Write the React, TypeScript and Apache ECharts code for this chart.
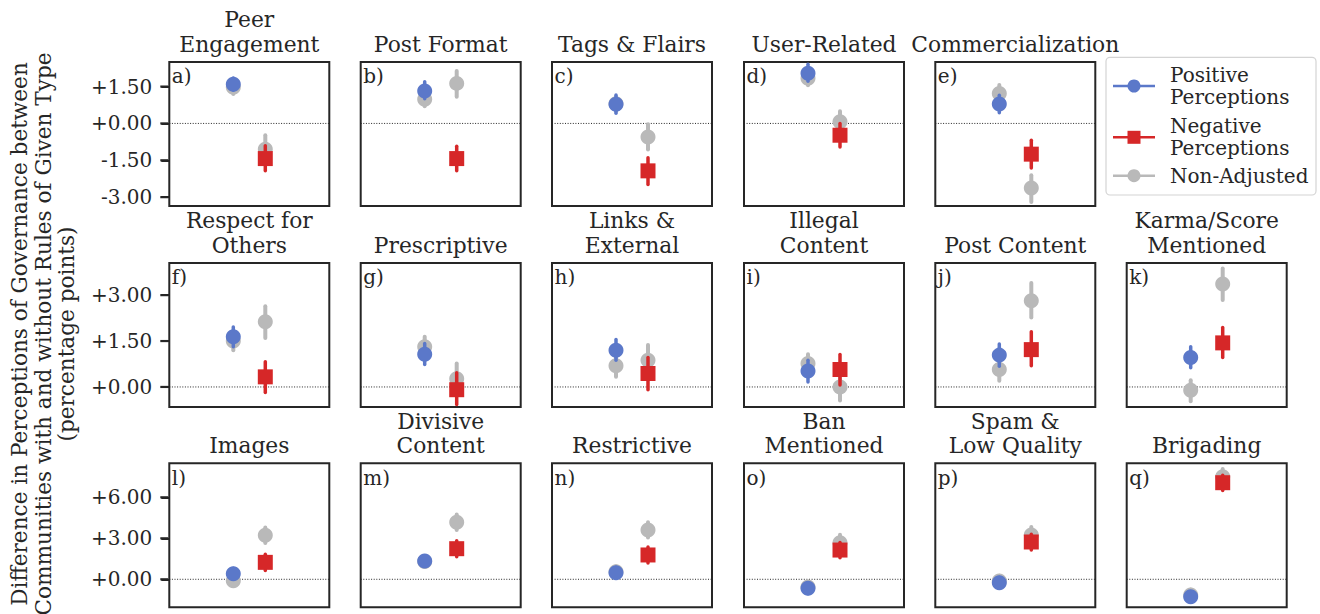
import React, { useEffect, useRef } from 'react';
import * as echarts from 'echarts';

// ---------- data ----------
const panelTitles = [
  'Peer\nEngagement', 'Post Format', 'Tags & Flairs', 'User-Related', 'Commercialization',
  'Respect for\nOthers', 'Prescriptive', 'Links &\nExternal', 'Illegal\nContent', 'Post Content', 'Karma/Score\nMentioned',
  'Images', 'Divisive\nContent', 'Restrictive', 'Ban\nMentioned', 'Spam &\nLow Quality', 'Brigading',
];
const panelLetters = ['a)', 'b)', 'c)', 'd)', 'e)', 'f)', 'g)', 'h)', 'i)', 'j)', 'k)', 'l)', 'm)', 'n)', 'o)', 'p)', 'q)'];
const panelRow = [0, 0, 0, 0, 0, 1, 1, 1, 1, 1, 1, 2, 2, 2, 2, 2, 2];
const panelCol = [0, 1, 2, 3, 4, 0, 1, 2, 3, 4, 5, 0, 1, 2, 3, 4, 5];

// Positive perceptions (adjusted)
const posEst = [1.59, 1.32, 0.78, 2.04, 0.79, 1.64, 1.07, 1.20, 0.52, 1.04, 0.96, 0.41, 1.34, 0.48, -0.66, -0.25, -1.27];
const posLo = [1.35, 1.00, 0.41, 1.72, 0.43, 1.31, 0.73, 0.87, 0.16, 0.68, 0.63, 0.00, 0.95, 0.08, -1.05, -0.65, -1.65];
const posHi = [1.85, 1.70, 1.16, 2.41, 1.15, 1.96, 1.42, 1.55, 0.87, 1.40, 1.31, 0.80, 1.72, 0.88, -0.28, 0.15, -0.90];
// Negative perceptions (adjusted)
const negEst = [-1.43, -1.43, -1.93, -0.48, -1.25, 0.33, -0.09, 0.44, 0.57, 1.22, 1.44, 1.24, 2.24, 1.78, 2.14, 2.73, 7.07];
const negLo = [-1.93, -1.93, -2.48, -0.96, -1.81, -0.18, -0.57, -0.09, 0.06, 0.69, 0.96, 0.64, 1.65, 1.20, 1.58, 2.15, 6.50];
const negHi = [-0.91, -0.93, -1.40, 0.00, -0.68, 0.82, 0.46, 0.96, 1.06, 1.80, 1.94, 1.84, 2.82, 2.36, 2.70, 3.30, 7.62];
// Non-adjusted, positive side
const rawPosEst = [1.47, 0.98, 0.80, 1.84, 1.22, 1.50, 1.31, 0.69, 0.77, 0.57, -0.11, -0.10, 1.30, 0.56, -0.56, -0.12, -1.15];
const rawPosLo = [1.20, 0.70, 0.50, 1.55, 0.90, 1.20, 1.00, 0.33, 0.45, 0.20, -0.47, -0.50, 0.90, 0.16, -0.95, -0.50, -1.55];
const rawPosHi = [1.75, 1.25, 1.10, 2.15, 1.56, 1.80, 1.64, 1.00, 1.07, 0.90, 0.22, 0.30, 1.70, 0.96, -0.17, 0.26, -0.75];
// Non-adjusted, negative side
const rawNegEst = [-1.05, 1.63, -0.55, 0.07, -2.63, 2.13, 0.27, 0.87, 0.00, 2.82, 3.36, 3.22, 4.17, 3.61, 2.68, 3.24, 7.51];
const rawNegLo = [-1.60, 1.09, -1.06, -0.35, -3.20, 1.60, -0.20, 0.40, -0.44, 2.27, 2.84, 2.65, 3.60, 3.05, 2.10, 2.66, 6.95];
const rawNegHi = [-0.48, 2.13, -0.03, 0.50, -2.11, 2.64, 0.77, 1.37, 0.30, 3.40, 3.87, 3.79, 4.74, 4.17, 3.26, 3.82, 8.07];

const rowTicks = [[-3, -1.5, 0, 1.5], [0, 1.5, 3], [0, 3, 6]];
const rowMin = [-3.36, -0.655, -2.05];
const rowMax = [2.5, 4.05, 8.49];
// two category slots on a hidden x scale
const catX = [3, 4];
const xRange = [1, 6];

const legendLines = [['Positive', 'Perceptions'], ['Negative', 'Perceptions'], ['Non-Adjusted']];
const yAxisTitle = 'Difference in Perceptions of Governance between\nCommunities with and without Rules of Given Type\n(percentage points)';

// ---------- style ----------
const BLUE = '#5b78c9';
const RED = '#d62728';
const GRAY = '#b9b9b9';
const INK = '#262626';
const FONT = 'DejaVu Serif';
const LEFTS = [169.3, 360.7, 552, 744, 935.3, 1126.7];
const TOPS = [62, 263, 463.3];
const PW = 160;
const PH = 144;
const TICK_LEN = 8;

const fmt = (v: number) => (v >= 0 ? '+' : '') + v.toFixed(2);

function errSeries(i: number, data: number[][], colors: string[], width: number, z: number) {
  return {
    type: 'custom',
    xAxisIndex: i,
    yAxisIndex: i,
    z,
    silent: true,
    data,
    renderItem: (params: any, api: any) => {
      const x = api.value(0);
      const p1 = api.coord([x, api.value(1)]);
      const p2 = api.coord([x, api.value(2)]);
      return {
        type: 'line',
        shape: { x1: p1[0], y1: p1[1], x2: p2[0], y2: p2[1] },
        style: { stroke: colors[params.dataIndex], lineWidth: width, lineCap: 'round' },
      };
    },
  };
}

function buildOption() {
  const grid: any[] = [];
  const xAxis: any[] = [];
  const yAxis: any[] = [];
  const series: any[] = [];
  const graphic: any[] = [];

  panelTitles.forEach((title, i) => {
    const r = panelRow[i];
    const c = panelCol[i];
    const left = LEFTS[c];
    const top = TOPS[r];
    grid.push({ left, top, width: PW, height: PH, show: true, borderColor: INK, borderWidth: 2, backgroundColor: 'transparent', containLabel: false });
    xAxis.push({ gridIndex: i, type: 'value', min: xRange[0], max: xRange[1], show: false });
    yAxis.push({
      gridIndex: i,
      type: 'value',
      position: 'left',
      min: rowMin[r],
      max: rowMax[r],
      splitLine: { show: false },
      axisLine: { show: false, onZero: false },
      axisTick: { show: c === 0, inside: false, length: TICK_LEN, lineStyle: { width: 2, color: INK }, customValues: rowTicks[r] },
      axisLabel: { show: c === 0, customValues: rowTicks[r], formatter: fmt, margin: 17, fontFamily: FONT, fontSize: 20, color: INK },
    });

    // zero reference line
    series.push({
      type: 'line', xAxisIndex: i, yAxisIndex: i, z: 1, silent: true, symbol: 'none',
      data: [[xRange[0], 0], [xRange[1], 0]],
      lineStyle: { type: [1, 1.6], width: 1, color: INK },
    });
    // non-adjusted
    series.push(errSeries(i, [[catX[0], rawPosLo[i], rawPosHi[i]], [catX[1], rawNegLo[i], rawNegHi[i]]], [GRAY, GRAY], 4, 2));
    series.push({
      type: 'scatter', xAxisIndex: i, yAxisIndex: i, z: 3, silent: true, symbol: 'circle', symbolSize: 15,
      itemStyle: { color: GRAY, opacity: 1 },
      data: [[catX[0], rawPosEst[i]], [catX[1], rawNegEst[i]]],
    });
    // adjusted
    series.push(errSeries(i, [[catX[0], posLo[i], posHi[i]], [catX[1], negLo[i], negHi[i]]], [BLUE, RED], 3.5, 4));
    series.push({
      type: 'scatter', xAxisIndex: i, yAxisIndex: i, z: 5, silent: true, symbol: 'circle', symbolSize: 15,
      itemStyle: { color: BLUE, opacity: 1 },
      data: [[catX[0], posEst[i]]],
    });
    series.push({
      type: 'scatter', xAxisIndex: i, yAxisIndex: i, z: 5, silent: true, symbol: 'rect', symbolSize: 15,
      itemStyle: { color: RED, opacity: 1 },
      data: [[catX[1], negEst[i]]],
    });

    graphic.push({
      type: 'text', x: left + PW / 2, y: top - 5.5, silent: true,
      style: { text: title, textAlign: 'center', textVerticalAlign: 'bottom', fontFamily: FONT, fontSize: 21.8, lineHeight: 24.4, fill: INK },
    });
    graphic.push({
      type: 'text', x: left + 2.5, y: top + 4.4, silent: true,
      style: { text: panelLetters[i], textAlign: 'left', textVerticalAlign: 'top', fontFamily: FONT, fontSize: 20, lineHeight: 20, fill: INK },
    });
  });

  // y-axis title
  graphic.push({
    type: 'text', x: 43, y: 334, rotation: Math.PI / 2, silent: true,
    style: { text: yAxisTitle, textAlign: 'center', textVerticalAlign: 'middle', fontFamily: FONT, fontSize: 21.6, lineHeight: 23.5, fill: INK },
  });

  // legend
  const LX = 1106;
  const LY = 57.3;
  graphic.push({
    type: 'rect', silent: true, shape: { x: LX, y: LY, width: 210, height: 137.7, r: 4 },
    style: { fill: 'rgba(255,255,255,0.8)', stroke: '#d4d4d4', lineWidth: 1.2 },
  });
  const legY = [86, 137.3, 175.7];
  const legC = [BLUE, RED, GRAY];
  legendLines.forEach((lines, k) => {
    graphic.push({ type: 'line', silent: true, shape: { x1: 1113, y1: legY[k], x2: 1155, y2: legY[k] }, style: { stroke: legC[k], lineWidth: 2.5 } });
    if (k === 1) {
      graphic.push({ type: 'rect', silent: true, shape: { x: 1134 - 6.5, y: legY[k] - 6.5, width: 13, height: 13 }, style: { fill: legC[k] } });
    } else {
      graphic.push({ type: 'circle', silent: true, shape: { cx: 1134, cy: legY[k], r: 6.5 }, style: { fill: legC[k] } });
    }
    lines.forEach((ln, j) => {
      const cy = lines.length === 1 ? legY[k] : legY[k] - 11 + j * 22;
      graphic.push({
        type: 'text', x: 1170, y: cy, silent: true,
        style: { text: ln, textAlign: 'left', textVerticalAlign: 'middle', fontFamily: FONT, fontSize: 20, lineHeight: 20, fill: INK },
      });
    });
  });

  return { animation: false, backgroundColor: '#ffffff', grid, xAxis, yAxis, series, graphic };
}

// y tick marks: positions come from the axis scale via convertToPixel
function tickGraphics(chart: any) {
  const out: any[] = [];
  panelTitles.forEach((_, i) => {
    if (panelCol[i] !== 0) return;
    rowTicks[panelRow[i]].forEach((v) => {
      const p = chart.convertToPixel({ gridIndex: i }, [xRange[0], v]);
      if (!p || !isFinite(p[0]) || !isFinite(p[1])) return;
      out.push({
        type: 'line', silent: true, z: 100,
        shape: { x1: p[0] - 1 - TICK_LEN, y1: p[1], x2: p[0] - 1, y2: p[1] },
        style: { stroke: INK, lineWidth: 2.2 },
      });
    });
  });
  return out;
}

export default function App() {
  const ref = useRef<HTMLDivElement>(null);
  useEffect(() => {
    const chart = echarts.init(ref.current as HTMLDivElement, null, { renderer: 'svg' });
    const option: any = buildOption();
    chart.setOption(option);
    const ticks = tickGraphics(chart);
    chart.setOption({ graphic: option.graphic.concat(ticks) });
    return () => chart.dispose();
  }, []);
  return <div ref={ref} style={{ position: 'absolute', left: 0, top: 0, width: 1320, height: 614, background: '#fff' }} />;
}
